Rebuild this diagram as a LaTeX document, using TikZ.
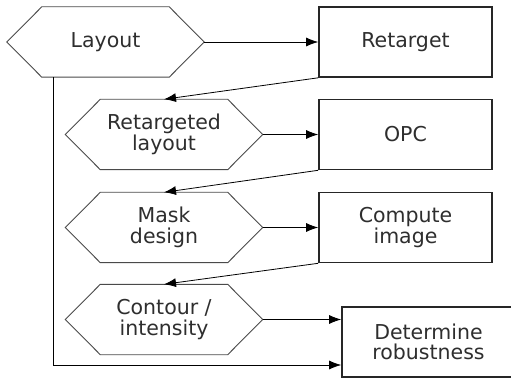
\documentclass[tikz,border=0pt]{standalone}
\usepackage{fontspec}
\setmainfont{DejaVu Sans}
\usepackage{tikz}
\usetikzlibrary{arrows.meta,positioning,calc}

\definecolor{txtgray}{HTML}{2E2E2E}
\definecolor{hexgray}{HTML}{4A4A4A}

\tikzset{
  datanode/.style = {minimum width=197pt, minimum height=70pt, inner sep=0pt,
                     align=center, text=txtgray},
  stepbox/.style  = {draw=black!85, line width=1.6pt, minimum width=173pt,
                     minimum height=70pt, inner sep=0pt, align=center, text=txtgray},
  hexline/.style  = {draw=hexgray, line width=0.9pt},
  arr/.style      = {-{Latex[length=12pt,width=9pt]}, line width=0.8pt}
}

\begin{document}
\begin{tikzpicture}[x=1pt, y=-1pt, font=\fontsize{20.5}{20.5}\selectfont]
\clip (0,0) rectangle (511,379);

% data (hexagons)
\node[datanode] (layout) at (105.5,42) {Layout};
\node[datanode] (retl) at (164,134.5) {Retargeted\\layout};
\node[datanode] (mask) at (164,227.5) {Mask\\design};
\node[datanode] (cont) at (164,319.5) {Contour /\\intensity};
\foreach \n in {layout,retl,mask,cont}
  \draw[hexline] (\n.west) -- ([xshift=35pt]\n.north west) -- ([xshift=-35pt]\n.north east)
    -- (\n.east) -- ([xshift=-35pt]\n.south east) -- ([xshift=35pt]\n.south west) -- cycle;

% steps (boxes)
\node[stepbox] (retarget) at (405.5,42) {Retarget};
\node[stepbox] (opc) at (405.5,134.5) {OPC};
\node[stepbox] (image) at (405.5,227.5) {Compute\\image};
\node[stepbox] (det) at (428.5,342) {Determine\\robustness};

% flow
\draw[arr] (layout.east) -- (retarget.west);
\draw[arr] (retarget.south west) -- (retl.north);
\draw[arr] (retl.east) -- (opc.west);
\draw[arr] (opc.south west) -- (mask.north);
\draw[arr] (mask.east) -- (image.west);
\draw[arr] (image.south west) -- (cont.north);
\draw[arr] (cont.east) -- (cont.east -| det.west);
\draw[arr] ([xshift=-52pt]layout.south) |- ([yshift=-23pt]det.west);
\end{tikzpicture}
\end{document}
